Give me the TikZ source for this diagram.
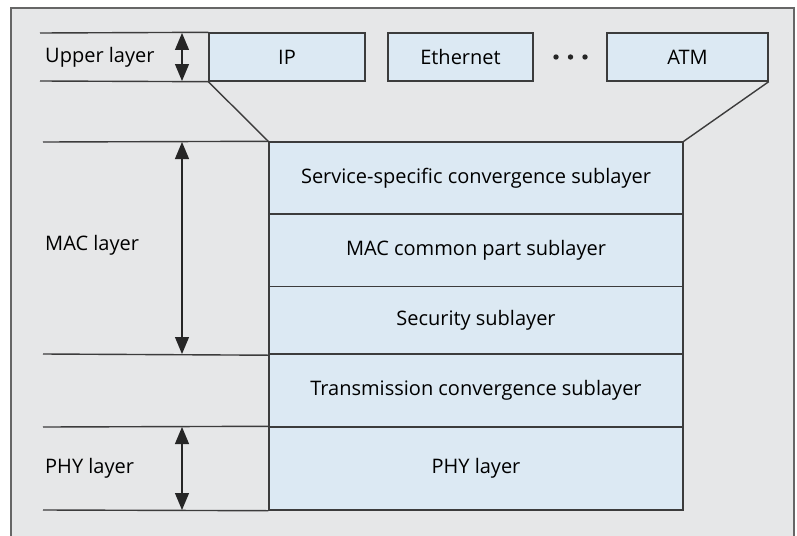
\documentclass[tikz,border=0pt]{standalone}
\usepackage{fontspec}
\setmainfont{Open Sans}
\usepackage{tikz}
\usetikzlibrary{arrows.meta}
\definecolor{frame}{RGB}{102, 102, 102}
\definecolor{edge}{RGB}{60, 60, 60}
\definecolor{back}{RGB}{230, 231, 232}
\definecolor{boxblue}{RGB}{220, 233, 243}

\begin{document}
\begin{tikzpicture}[
   x=1pt, y=-1pt,
   font=\fontsize{20}{24}\selectfont,
   layerbox/.style={rectangle, draw=edge, fill=boxblue, line width=1.4,
                    inner sep=0, minimum width=414},
   topbox/.style={rectangle, draw=edge, fill=boxblue, line width=1.4,
                  inner sep=0, minimum height=48},
   rule/.style={draw=edge, line width=1.4},
   dbl/.style={{Triangle[length=17,width=14]}-{Triangle[length=17,width=14]},
               color=black!85, line width=1.2},
   label/.style={anchor=west, inner sep=0}
  ]

  \useasboundingbox (0, 0) rectangle (797, 535);
  \fill[white] (0, 0) rectangle (797, 535);
  \filldraw[draw=frame, fill=back, line width=1.5]
    (11, 540) -- (11, 8) -- (794, 8) -- (794, 540);

  % Upper layer
  \node (IP) at (287, 57) [topbox, minimum width=156] {IP};
  \node (ETH) at (460.5, 57) [topbox, minimum width=145] {Ethernet};
  \node (ATM) at (687.5, 57) [topbox, minimum width=161] {ATM};
  \foreach \x in {556, 570.5, 585} {
    \fill[black!85] (\x, 57) circle (2.7);
  }

  % Sublayer stack
  \node (S1) at (476, 178) [layerbox, minimum height=72]
    {Service-specific convergence sublayer};
  \node (S2) at (476, 250.5) [layerbox, minimum height=73]
    {MAC common part sublayer};
  \node (S3) at (476, 320.5) [layerbox, minimum height=68]
    {Security sublayer};
  \node (S4) at (476, 390.5) [layerbox, minimum height=73]
    {Transmission convergence sublayer};
  \node (S5) at (476, 468.5) [layerbox, minimum height=83]
    {PHY layer};

  \draw[rule] (IP.south west) -- (S1.north west);
  \draw[rule] (ATM.south east) -- (S1.north east);

  % Rules on the left
  \coordinate (U1) at (40, 33);
  \coordinate (U2) at (40, 81);
  \coordinate (M1) at (43, 142);
  \coordinate (M2) at (43, 354);
  \coordinate (P1) at (43, 427);
  \coordinate (P2) at (43, 510);

  \foreach \B/\E in {U1/IP.north west, U2/IP.south west, M1/S1.north west,
                     M2/S3.south west, P1/S5.north west, P2/S5.south west} {
    \draw[rule] (\B) -- (\E);
  }

  \coordinate (uA) at (182, 33);
  \coordinate (uB) at (182, 81);
  \coordinate (mA) at (182, 142);
  \coordinate (mB) at (182, 354);
  \coordinate (pA) at (182, 427);
  \coordinate (pB) at (182, 510);

  \foreach \B/\E in {uA/uB, mA/mB, pA/pB} {
    \draw[dbl] (\B) -- (\E);
  }

  \node (UL) at (45, 57) [label] {Upper layer};
  \node (ML) at (45, 245) [label] {MAC layer};
  \node (PL) at (45, 468) [label] {PHY layer};

\end{tikzpicture}
\end{document}
